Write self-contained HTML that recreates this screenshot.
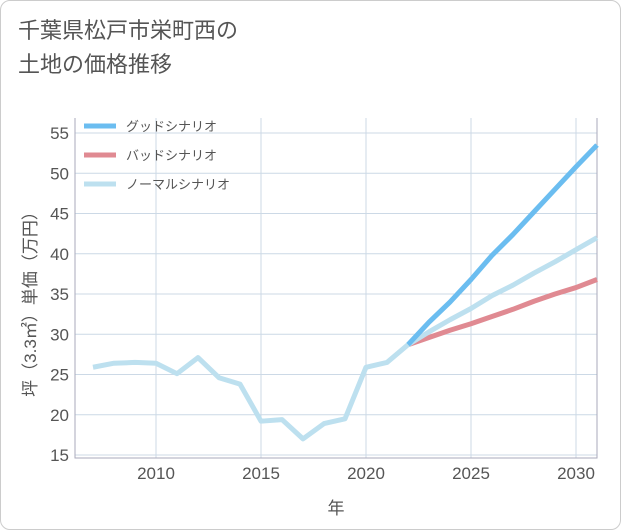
<!DOCTYPE html>
<html><head><meta charset="utf-8"><style>
body{margin:0;background:#fff;font-family:"Liberation Sans","Noto Sans CJK JP",sans-serif}
#card{position:absolute;left:0;top:0;width:619px;height:528px;border:1px solid #ccc;border-radius:10px;background:#fff}
#title{position:absolute;left:18px;top:14px;font-size:22px;line-height:34px;color:#555;font-family:"Liberation Sans","Noto Sans CJK JP",sans-serif}
</style></head><body>
<div id="card"></div>
<div id="title">千葉県松戸市栄町西の<br>土地の価格推移</div>
<svg id="chart" width="621" height="530" style="position:absolute;left:0;top:0"></svg>
<script>
const histYears=[2007,2008,2009,2010,2011,2012,2013,2014,2015,2016,2017,2018,2019,2020,2021,2022];
const histValues=[25.9,26.4,26.5,26.4,25.1,27.1,24.6,23.8,19.2,19.4,17.0,18.9,19.5,25.9,26.5,28.7];
const projYears=[2022,2023,2024,2025,2026,2027,2028,2029,2030,2031];
const goodValues=[28.7,31.5,34.0,36.8,39.8,42.4,45.2,48.0,50.8,53.5];
const badValues=[28.7,29.6,30.5,31.3,32.2,33.1,34.1,35.0,35.8,36.8];
const normalValues=[28.7,30.3,31.8,33.2,34.8,36.1,37.6,39.0,40.5,42.0];
const yTicks=[15,20,25,30,35,40,45,50,55];
const xTicks=[2010,2015,2020,2025,2030];
const legendLabels=["グッドシナリオ","バッドシナリオ","ノーマルシナリオ"];
const colors=["#6bbdf0","#e08a92","#bde0ef"];
const L=75,R=597,T=118,B=458;
const x=v=>156+(v-2010)*21;
const y=v=>455-(v-15)*8.05;
const svg=document.getElementById('chart');
const NS='http://www.w3.org/2000/svg';
function mk(t,a){const e=document.createElementNS(NS,t);for(const k in a)e.setAttribute(k,a[k]);svg.appendChild(e);return e;}
yTicks.forEach(v=>{
const g=mk('line',{x1:L,x2:R,y1:y(v),y2:y(v),stroke:'#ccd9e6','stroke-width':1});


const t=mk('text',{x:L-6,y:y(v)+6,'text-anchor':'end','font-size':17,fill:'#555'});t.textContent=v;


});
xTicks.forEach(v=>{
const g=mk('line',{x1:x(v),x2:x(v),y1:T,y2:B,stroke:'#ccd9e6','stroke-width':1});


const t=mk('text',{x:x(v),y:479,'text-anchor':'middle','font-size':17,fill:'#555'});t.textContent=v;


});
const ax=mk('path',{d:`M${L} ${T}V${B}H${R}V${T}`,fill:'none',stroke:'#aab','stroke-width':1});


function line(xs,vs,c,name){const p=mk('polyline',{points:xs.map((a,i)=>x(a)+','+y(vs[i])).join(' '),fill:'none',stroke:c,'stroke-width':5,'stroke-linejoin':'round'});

}
line(projYears,badValues,colors[1],'bad-scenario-line');
line(projYears,normalValues,colors[2],'normal-scenario-line');
line(projYears,goodValues,colors[0],'good-scenario-line');
line(histYears,histValues,colors[2],'historical-line');
legendLabels.forEach((s,i)=>{
const ly=126+i*29;
const l=mk('line',{x1:84,x2:116,y1:ly,y2:ly,stroke:colors[i],'stroke-width':5});


const t=mk('text',{x:126,y:ly+5,'font-size':13,fill:'#555'});t.textContent=s;


});
const xt=mk('text',{x:336,y:514,'text-anchor':'middle','font-size':17,fill:'#555'});xt.textContent='年';


const yt=mk('text',{x:0,y:0,'text-anchor':'middle','font-size':17,fill:'#555',transform:'translate(36,300) rotate(-90)'});yt.textContent='坪（3.3㎡）単価（万円）';


</script>
</body></html>
